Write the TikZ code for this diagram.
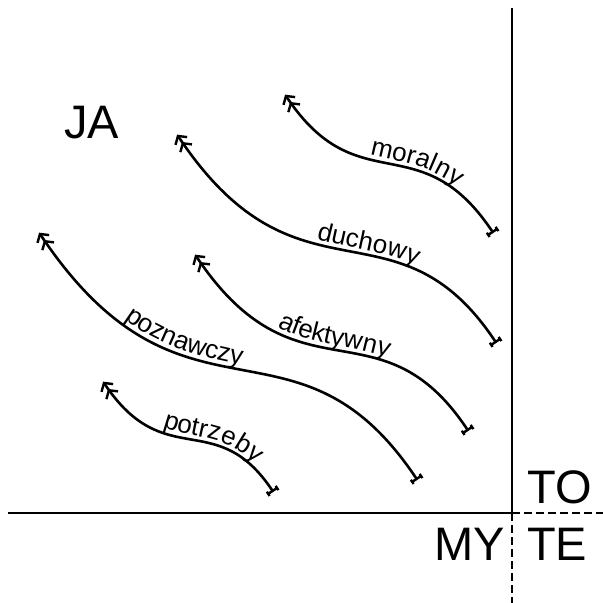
\documentclass[tikz,border=0pt]{standalone}
\usepackage{fontspec}
\setmainfont{Liberation Sans}
\usetikzlibrary{arrows.meta,decorations.text}
\newcommand\lblfont{\fontsize{26}{26}\selectfont}
\newcommand\bigfont{\fontsize{47}{47}\selectfont}
\tikzset{
  axis/.style={line width=2.3pt},
  axisdash/.style={line width=2.3pt, dash pattern=on 8pt off 4pt},
  headbarb/.style={},
  curve/.style={line width=2.6pt,
    arrows={Straight Barb[length=6pt,width=14pt,line width=2.4pt,sep=2pt]Straight Barb[length=6pt,width=14pt,line width=2.4pt]-Tee Barb[reversed,width=13pt,length=5pt,line width=2.4pt]}},
  big/.style={font=\bigfont, inner sep=0pt, anchor=base west},
  lbl/.style 2 args={decorate, decoration={text along path, text={|\lblfont|#1}, raise=4.5pt, text align={left indent=#2}}},
}
\begin{document}
\begin{tikzpicture}[x=1pt,y=-1pt]
\useasboundingbox (0,0) rectangle (603,603);
% axes
\coordinate (O) at (512,513);
\coordinate (top) at (512,8);
\coordinate (left) at (8,513);
\coordinate (right) at (603,513);
\coordinate (bottom) at (512,603);
\draw[axis] (top) -- (O) -- (left);
\draw[axisdash] (O) -- (right);
\draw[axisdash] (O) -- (bottom);
% big labels
\node[big] (ja) at (64,138) {JA};
\node[big] (to) at (527,503) {TO};
\node[big] (my) at (434,560) {MY};
\node[big] (te) at (527,560) {TE};
% moralny
\coordinate (m1) at (284,93); \coordinate (m1a) at (358,204);
\coordinate (m1b) at (420,123); \coordinate (m2) at (494,234);
\draw[curve] (m1) .. controls (m1a) and (m1b) .. (m2);
\path[lbl={moralny}{110pt}] (m1) .. controls (m1a) and (m1b) .. (m2);
% duchowy
\coordinate (d1) at (176,133); \coordinate (d1a) at (298,316);
\coordinate (d1b) at (396,192); \coordinate (d2) at (497,344);
\draw[curve] (d1) .. controls (d1a) and (d1b) .. (d2);
\path[lbl={duchowy}{182pt}] (d1) .. controls (d1a) and (d1b) .. (d2);
% afektywny
\coordinate (a1) at (194,253); \coordinate (a1a) at (297,407);
\coordinate (a1b) at (380,298); \coordinate (a2) at (469,432);
\draw[curve] (a1) .. controls (a1a) and (a1b) .. (a2);
\path[lbl={afektywny}{114pt}] (a1) .. controls (a1a) and (a1b) .. (a2);
% poznawczy
\coordinate (p1) at (38,231); \coordinate (p1a) at (183,448);
\coordinate (p1b) at (296,298); \coordinate (p2) at (418,481);
\draw[curve] (p1) .. controls (p1a) and (p1b) .. (p2);
\path[lbl={poznawczy}{125pt}] (p1) .. controls (p1a) and (p1b) .. (p2);
% potrzeby
\coordinate (t1) at (102,380); \coordinate (t1a) at (165,474);
\coordinate (t1b) at (216,406); \coordinate (t2) at (274,493);
\draw[curve] (t1) .. controls (t1a) and (t1b) .. (t2);
\path[lbl={potrzeby}{80pt}] (t1) .. controls (t1a) and (t1b) .. (t2);
\end{tikzpicture}
\end{document}
